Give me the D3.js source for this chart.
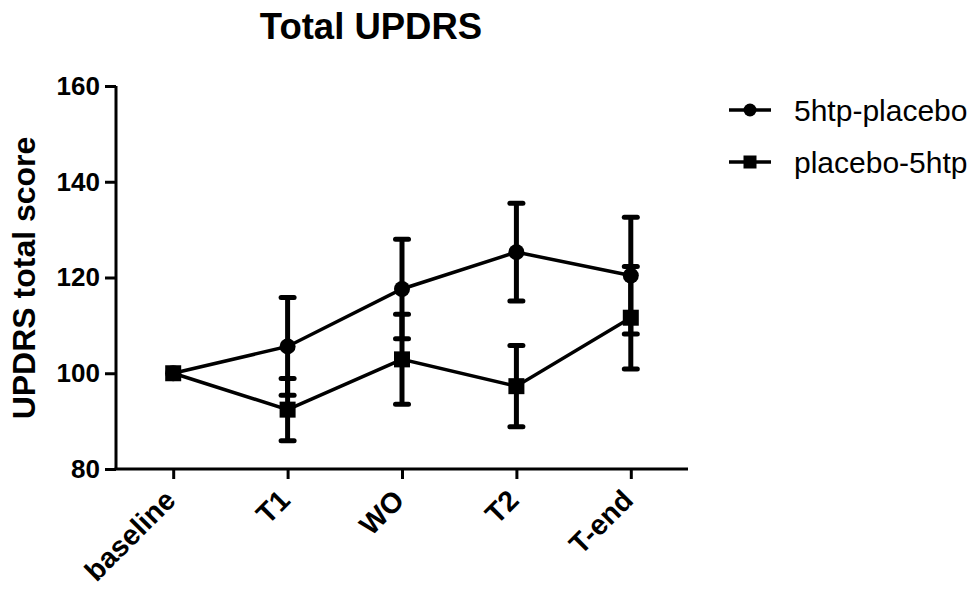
<!DOCTYPE html>
<html>
<head>
<meta charset="utf-8">
<script src="https://cdn.jsdelivr.net/npm/d3@7"></script>
<style>
  html, body { margin: 0; padding: 0; background: #fff; }
  svg { display: block; font-family: "Liberation Sans", Arial, sans-serif; }
</style>
</head>
<body>
<svg id="chart" width="976" height="590"></svg>
<script>
// ---- data ----
const categories = ["baseline", "T1", "WO", "T2", "T-end"];
const seriesNames = ["5htp-placebo", "placebo-5htp"];
const meanA = [100, 105.6, 117.6, 125.3, 120.4];   // 5htp-placebo
const errA  = [0, 10.2, 10.4, 10.2, 12.2];
const meanB = [100, 92.4, 102.9, 97.3, 111.6];     // placebo-5htp
const errB  = [0, 6.5, 9.4, 8.5, 10.7];
const yTicks = [80, 100, 120, 140, 160];

const svg = d3.select("#chart");
const x = d3.scalePoint().domain(categories).range([116, 688]).padding(0.5);
const y = d3.scaleLinear().domain([80, 160]).range([469, 86]);

// title
svg.append("text").attr("x", 371).attr("y", 39).attr("text-anchor", "middle")
  .style("font-size", "36.5px").style("font-weight", "bold").text("Total UPDRS");

// y axis label
svg.append("text").attr("transform", "translate(35,278) rotate(-90)")
  .attr("text-anchor", "middle").style("font-size", "32px").style("font-weight", "bold")
  .text("UPDRS total score");

// axes
const yAxis = d3.axisLeft(y).tickValues(yTicks).tickSize(11).tickPadding(5);
const gy = svg.append("g").attr("transform", "translate(116,0)").call(yAxis);
gy.select(".domain").attr("d", `M0,${y(160)}V${y(80)}`);
gy.selectAll("path,line").attr("stroke", "#000").attr("stroke-width", 3);
gy.selectAll("text").style("font-size", "26px").style("font-weight", "bold")
  .attr("fill", "#000").attr("font-family", "Liberation Sans, Arial, sans-serif");

const xAxis = d3.axisBottom(x).tickSize(10).tickSizeOuter(0).tickFormat("");
const gx = svg.append("g").attr("transform", `translate(0,${y(80)})`).call(xAxis);
gx.select(".domain").attr("d", "M114.5,0H688");
gx.selectAll("path,line").attr("stroke", "#000").attr("stroke-width", 3);

// rotated x labels
svg.append("g").selectAll("text").data(categories).join("text")
  .attr("transform", d => `translate(${x(d) + 4},${y(80) + 33}) rotate(-45)`)
  .attr("text-anchor", "end").style("font-size", "28.5px").style("font-weight", "bold")
  .text(d => d);

// series
const series = [
  { name: seriesNames[0], mean: meanA, err: errA, shape: "circle" },
  { name: seriesNames[1], mean: meanB, err: errB, shape: "square" }
];

const line = d3.line().x((d, i) => x(categories[i])).y(d => y(d));

series.forEach(s => {
  svg.append("path").attr("d", line(s.mean)).attr("fill", "none")
    .attr("stroke", "#000").attr("stroke-width", 3.5);
});

series.forEach(s => {
  const g = svg.append("g");
  s.mean.forEach((m, i) => {
    if (s.err[i] <= 0) return;
    const cx = x(categories[i]);
    const top = y(m + s.err[i]), bot = y(m - s.err[i]);
    g.append("line").attr("x1", cx).attr("x2", cx).attr("y1", top).attr("y2", bot)
      .attr("stroke", "#000").attr("stroke-width", 5);
    [top, bot].forEach(yy => {
      g.append("line").attr("x1", cx - 6.5).attr("x2", cx + 6.5).attr("y1", yy).attr("y2", yy)
        .attr("stroke", "#000").attr("stroke-width", 5).attr("stroke-linecap", "round");
    });
  });
});

function marker(g, shape, cx, cy, size) {
  if (shape === "circle") {
    g.append("circle").attr("cx", cx).attr("cy", cy).attr("r", size / 2).attr("fill", "#000");
  } else {
    g.append("rect").attr("x", cx - size / 2).attr("y", cy - size / 2)
      .attr("width", size).attr("height", size).attr("fill", "#000");
  }
}

series.forEach(s => {
  const g = svg.append("g");
  s.mean.forEach((m, i) => marker(g, s.shape, x(categories[i]), y(m), 16));
});

// legend
const legY = [110, 162];
series.forEach((s, i) => {
  const g = svg.append("g");
  g.append("line").attr("x1", 729).attr("x2", 771).attr("y1", legY[i]).attr("y2", legY[i])
    .attr("stroke", "#000").attr("stroke-width", 3.5);
  marker(g, s.shape, 750, legY[i], 13);
  g.append("text").attr("x", 794).attr("y", legY[i]).attr("dy", "0.35em")
    .style("font-size", "30px").text(s.name);
});
</script>
</body>
</html>
